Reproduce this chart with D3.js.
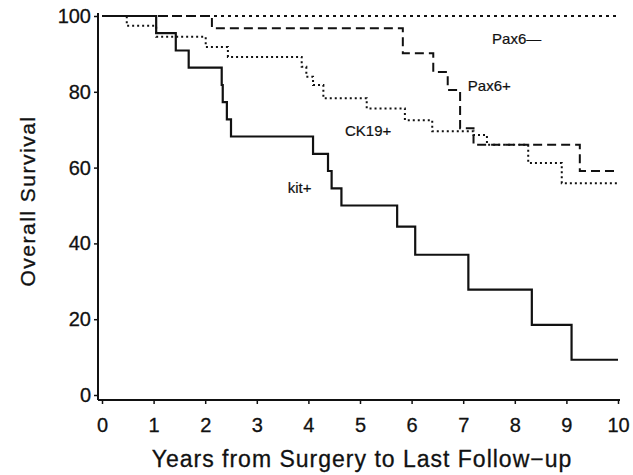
<!DOCTYPE html>
<html>
<head>
<meta charset="utf-8">
<script src="https://cdn.jsdelivr.net/npm/d3@7"></script>
<style>
  body { margin: 0; background: #fff; }
  text { font-family: "Liberation Sans", Arial, sans-serif; fill: #111; }
</style>
</head>
<body>
<div id="chart"></div>
<script>
// Kaplan-Meier step data (years, % surviving)
const kitTimes = [0, 1.05, 1.43, 1.68, 2.32, 2.34, 2.42, 2.5, 4.09, 4.38, 4.45, 4.64, 5.72, 6.07, 7.1, 8.33, 9.1, 10];
const kitSurv  = [100, 95.5, 90.9, 86.4, 81.8, 77.3, 72.7, 68.2, 63.6, 59.1, 54.5, 50.0, 44.4, 37.0, 27.8, 18.5, 9.3, 9.3];

const pax6negTimes = [0, 10];
const pax6negSurv  = [100, 100];

const pax6posTimes = [0, 2.13, 5.83, 6.42, 6.7, 6.94, 7.2, 9.26, 10];
const pax6posSurv  = [100, 96.8, 90.2, 85.2, 80.5, 70.4, 66.0, 59.1, 59.1];

const ck19Times = [0, 0.48, 1.05, 2.01, 2.44, 3.87, 3.96, 4.09, 4.29, 5.13, 5.87, 6.4, 7.2, 7.46, 8.26, 8.91, 10];
const ck19Surv  = [100, 97.4, 94.5, 91.8, 89.2, 86.6, 84.0, 81.8, 78.3, 75.6, 72.5, 69.6, 68.6, 66.0, 61.2, 55.9, 55.9];

const xTicks = [0, 1, 2, 3, 4, 5, 6, 7, 8, 9, 10];
const yTicks = [0, 20, 40, 60, 80, 100];

const width = 633, height = 475;

const svg = d3.select("#chart")
    .append("svg")
    .attr("width", width)
    .attr("height", height);

// scales
const x = d3.scaleLinear().domain([0, 10]).range([102, 618]);
const y = d3.scaleLinear().domain([0, 100]).range([395, 16]);

const axisX = 98, axisY = 400;

// axis lines
svg.append("line")
    .attr("x1", axisX).attr("x2", axisX)
    .attr("y1", y(100) - 3).attr("y2", axisY)
    .attr("stroke", "#111").attr("stroke-width", 2);
svg.append("line")
    .attr("x1", axisX).attr("x2", x(10) + 2)
    .attr("y1", axisY).attr("y2", axisY)
    .attr("stroke", "#111").attr("stroke-width", 2);

// y axis
const gy = svg.append("g")
    .attr("transform", "translate(" + axisX + ",0)")
    .call(d3.axisLeft(y).tickValues(yTicks).tickSize(4).tickPadding(3));
gy.select(".domain").remove();
gy.selectAll("line").attr("stroke", "#111").attr("stroke-width", 1.5);
gy.selectAll("text").style("font-size", "20px").attr("fill", "#111")
    .attr("stroke", "#111").attr("stroke-width", 0.3);

// x axis
const gx = svg.append("g")
    .attr("transform", "translate(0," + axisY + ")")
    .call(d3.axisBottom(x).tickValues(xTicks).tickSize(4).tickPadding(14));
gx.select(".domain").remove();
gx.selectAll("line").attr("stroke", "#111").attr("stroke-width", 1.5);
gx.selectAll("text").style("font-size", "20px").attr("fill", "#111")
    .attr("stroke", "#111").attr("stroke-width", 0.3);

// axis titles
svg.append("text")
    .attr("x", 362)
    .attr("y", 467)
    .attr("text-anchor", "middle")
    .style("font-size", "23px")
    .style("letter-spacing", "1px")
    .attr("stroke", "#111").attr("stroke-width", 0.3)
    .text("Years from Surgery to Last Follow\u2212up");

svg.append("text")
    .attr("transform", "translate(35,201) rotate(-90)")
    .attr("text-anchor", "middle")
    .style("font-size", "21px")
    .style("letter-spacing", "1.5px")
    .attr("stroke", "#111").attr("stroke-width", 0.3)
    .text("Overall  Survival");

// curves
const line = d3.line()
    .x(d => x(d[0]))
    .y(d => y(d[1]))
    .curve(d3.curveStepAfter);

const curves = [
    { times: pax6negTimes, surv: pax6negSurv, dash: "3,4", w: 2 },
    { times: pax6posTimes, surv: pax6posSurv, dash: "9,5", w: 2 },
    { times: ck19Times, surv: ck19Surv, dash: "2,3", w: 2 },
    { times: kitTimes, surv: kitSurv, dash: null, w: 2.2 }
];

svg.selectAll(".km")
    .data(curves)
    .enter().append("path")
    .attr("class", "km")
    .attr("d", c => line(c.times.map((t, i) => [t, c.surv[i]])))
    .attr("fill", "none")
    .attr("stroke", "#111")
    .attr("stroke-width", c => c.w)
    .attr("stroke-dasharray", c => c.dash);

// curve labels
const labels = [
    { text: "Pax6\u2014", t: 7.56, s: 92.6 },
    { text: "Pax6+", t: 7.09, s: 80.2 },
    { text: "CK19+", t: 4.71, s: 68.3 },
    { text: "kit+", t: 3.6, s: 53.3 }
];
svg.selectAll(".lbl")
    .data(labels)
    .enter().append("text")
    .attr("class", "lbl")
    .attr("x", d => x(d.t))
    .attr("y", d => y(d.s))
    .style("font-size", "15px")
    .attr("stroke", "#111").attr("stroke-width", 0.2)
    .text(d => d.text);
</script>
</body>
</html>
